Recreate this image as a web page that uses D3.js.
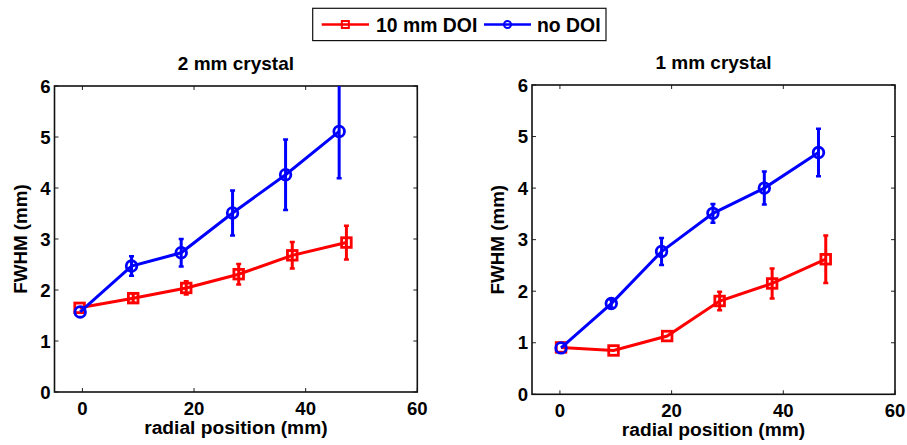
<!DOCTYPE html>
<html>
<head>
<meta charset="utf-8">
<script src="https://cdn.jsdelivr.net/npm/d3@7"></script>
<style>
  body { margin: 0; background: #fff; }
  svg { display: block; font-family: "Liberation Sans", Arial, sans-serif; font-weight: bold; }
</style>
</head>
<body>
<svg id="chart" width="907" height="445"></svg>
<script>
// 2 mm crystal
var xA_doi = [-0.5, 9.1, 18.6, 28.0, 37.6, 47.3];
var yA_doi = [1.65, 1.84, 2.04, 2.31, 2.68, 2.93];
var eA_doi = [0.0, 0.09, 0.13, 0.2, 0.26, 0.33];
var xA_no = [-0.4, 8.8, 17.7, 26.9, 36.4, 46.0];
var yA_no = [1.57, 2.47, 2.73, 3.51, 4.26, 5.11];
var eA_no = [0.0, 0.19, 0.27, 0.44, 0.69, 0.92];

// 1 mm crystal
var xB_doi = [0.2, 9.6, 19.2, 28.6, 38.0, 47.6];
var yB_doi = [0.91, 0.85, 1.13, 1.81, 2.15, 2.62];
var eB_doi = [0.0, 0.0, 0.0, 0.18, 0.29, 0.46];
var xB_no = [0.2, 9.2, 18.2, 27.4, 36.6, 46.3];
var yB_no = [0.9, 1.76, 2.77, 3.51, 4.0, 4.69];
var eB_no = [0.0, 0.08, 0.26, 0.18, 0.32, 0.46];

var xTicks = [0, 20, 40, 60];
var yTicks = [0, 1, 2, 3, 4, 5, 6];
var titles = ['2 mm crystal', '1 mm crystal'];
var seriesNames = ['10 mm DOI', 'no DOI'];
var colors = ['#ff0000', '#0000ff'];

var svg = d3.select('#chart');

var panels = [
  {title: titles[0], box: {l: 54.5, r: 417.3, t: 86, b: 392},
   series: [[xA_doi, yA_doi, eA_doi], [xA_no, yA_no, eA_no]]},
  {title: titles[1], box: {l: 532, r: 895, t: 85, b: 394.3},
   series: [[xB_doi, yB_doi, eB_doi], [xB_no, yB_no, eB_no]]}
];

panels.forEach(function(p, pi) {
  var b = p.box;
  var x = d3.scaleLinear().domain([-5, 60]).range([b.l, b.r]);
  var y = d3.scaleLinear().domain([0, 6]).range([b.b, b.t]);
  var g = svg.append('g');

  var clipId = 'clip' + pi;
  svg.append('clipPath').attr('id', clipId).append('rect')
    .attr('x', b.l).attr('y', b.t).attr('width', b.r - b.l).attr('height', b.b - b.t);

  // ticks inside on all sides
  var tk = g.append('g').attr('stroke', '#222').attr('stroke-width', 1);
  xTicks.forEach(function(v) {
    tk.append('line').attr('x1', x(v)).attr('x2', x(v)).attr('y1', b.b).attr('y2', b.b - 4);
    tk.append('line').attr('x1', x(v)).attr('x2', x(v)).attr('y1', b.t).attr('y2', b.t + 4);
  });
  yTicks.forEach(function(v) {
    tk.append('line').attr('x1', b.l).attr('x2', b.l + 4).attr('y1', y(v)).attr('y2', y(v));
    tk.append('line').attr('x1', b.r).attr('x2', b.r - 4).attr('y1', y(v)).attr('y2', y(v));
  });

  g.append('rect').attr('x', b.l).attr('y', b.t)
    .attr('width', b.r - b.l).attr('height', b.b - b.t)
    .attr('fill', 'none').attr('stroke', '#111').attr('stroke-width', 1.6);

  // tick labels
  g.selectAll('.xl').data(xTicks).enter().append('text')
    .attr('x', function(d) { return x(d); }).attr('y', b.b + 23)
    .attr('text-anchor', 'middle').attr('font-size', 18.6)
    .text(function(d) { return d; });
  g.selectAll('.yl').data(yTicks).enter().append('text')
    .attr('x', b.l - 4).attr('y', function(d) { return y(d) + 6.7; })
    .attr('text-anchor', 'end').attr('font-size', 18.6)
    .text(function(d) { return d; });

  var cx = (b.l + b.r) / 2;
  g.append('text').attr('x', cx).attr('y', b.b + 41.5)
    .attr('text-anchor', 'middle').attr('font-size', 19.2)
    .text('radial position (mm)');
  g.append('text').attr('transform', 'translate(' + (b.l - 28) + ',' + ((b.t + b.b) / 2) + ') rotate(-90)')
    .attr('text-anchor', 'middle').attr('font-size', 18.8)
    .text('FWHM (mm)');
  g.append('text').attr('x', cx).attr('y', b.t - 16)
    .attr('text-anchor', 'middle').attr('font-size', 19)
    .text(p.title);

  var plot = g.append('g').attr('clip-path', 'url(#' + clipId + ')');
  var line = d3.line();

  p.series.forEach(function(s, si) {
    var xs = s[0], ys = s[1], es = s[2];
    var c = colors[si];
    var pts = xs.map(function(v, i) { return [x(v), y(ys[i])]; });
    plot.append('path').attr('d', line(pts))
      .attr('fill', 'none').attr('stroke', c).attr('stroke-width', 3);
    xs.forEach(function(v, i) {
      if (es[i] <= 0) return;
      var px = x(v), y1 = y(ys[i] + es[i]), y2 = y(ys[i] - es[i]);
      plot.append('line').attr('x1', px).attr('x2', px).attr('y1', y1).attr('y2', y2)
        .attr('stroke', c).attr('stroke-width', 3);
      [y1, y2].forEach(function(yy) {
        plot.append('line').attr('x1', px - 2.5).attr('x2', px + 2.5).attr('y1', yy).attr('y2', yy)
          .attr('stroke', c).attr('stroke-width', 2.5);
      });
    });
    pts.forEach(function(pt) {
      if (si === 0) {
        plot.append('rect').attr('x', pt[0] - 4.8).attr('y', pt[1] - 4.8)
          .attr('width', 9.6).attr('height', 9.6)
          .attr('fill', 'none').attr('stroke', c).attr('stroke-width', 2.8);
      } else {
        plot.append('circle').attr('cx', pt[0]).attr('cy', pt[1]).attr('r', 5.3)
          .attr('fill', 'none').attr('stroke', c).attr('stroke-width', 2.8);
      }
    });
  });
});

// legend
var lg = svg.append('g');
lg.append('rect').attr('x', 312.7).attr('y', 8.3).attr('width', 293.3).attr('height', 32.3)
  .attr('fill', '#fff').attr('stroke', '#111').attr('stroke-width', 1.2);
var legendItems = [
  {x1: 321.7, x2: 369, tx: 376},
  {x1: 484, x2: 531, tx: 537}
];
legendItems.forEach(function(it, i) {
  var c = colors[i], ly = 24.5, mx = (it.x1 + it.x2) / 2;
  lg.append('line').attr('x1', it.x1).attr('x2', it.x2).attr('y1', ly).attr('y2', ly)
    .attr('stroke', c).attr('stroke-width', 2.5);
  if (i === 0) {
    lg.append('rect').attr('x', mx - 3.5).attr('y', ly - 3.5).attr('width', 7).attr('height', 7)
      .attr('fill', 'none').attr('stroke', c).attr('stroke-width', 2);
  } else {
    lg.append('circle').attr('cx', mx).attr('cy', ly).attr('r', 3.5)
      .attr('fill', 'none').attr('stroke', c).attr('stroke-width', 2);
  }
  lg.append('text').attr('x', it.tx).attr('y', ly + 7).attr('font-size', 19.4)
    .text(seriesNames[i]);
});
</script>
</body>
</html>
